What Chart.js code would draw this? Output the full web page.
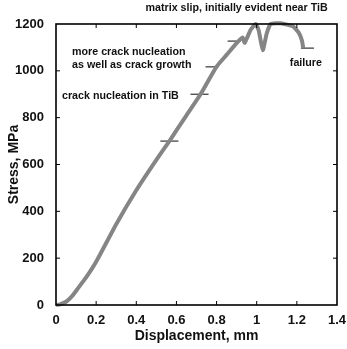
<!DOCTYPE html>
<html lang="en">
<head>
    <meta charset="UTF-8">
    <title>Stress vs displacement</title>
    <script src="https://cdn.jsdelivr.net/npm/chart.js"></script>
    <style>
        html, body { margin: 0; padding: 0; background: #fff; }
        .wrap { width: 347px; height: 349px; }
    </style>
</head>
<body>
    <div class="wrap"><canvas id="stressChart" width="347" height="349"></canvas></div>

    <script>
        // load curve (displacement in mm, stress in MPa)
        const displacement = [0, 0.02, 0.05, 0.08, 0.11, 0.15, 0.20, 0.30, 0.40, 0.50, 0.565, 0.65, 0.72, 0.80,
                              0.85, 0.90, 0.93, 0.94, 0.97, 0.995, 1.01, 1.03, 1.05, 1.07, 1.12, 1.18,
                              1.21, 1.225, 1.232];
        const stress = [0, 3, 14, 38, 72, 118, 185, 345, 490, 620, 700, 810, 900, 1018,
                        1068, 1118, 1142, 1120, 1175, 1200, 1172, 1088, 1160, 1200, 1203, 1190,
                        1162, 1130, 1097];

        // short horizontal marks for the damage stages
        const markStress = [700, 900, 1017, 1127, 1097];
        const markFrom = [0.52, 0.67, 0.745, 0.855, 1.22];
        const markTo = [0.61, 0.76, 0.81, 0.92, 1.285];

        // stage labels: text, x, y (data units), alignment
        const noteText = ['matrix slip, initially evident near TiB', 'more crack nucleation',
                          'as well as crack growth', 'crack nucleation in TiB', 'failure'];
        const noteX = [0.9, 0.08, 0.08, 0.03, 1.245];
        const noteY = [1270, 1082, 1026, 892, 1034];
        const noteAlign = ['center', 'left', 'left', 'left', 'center'];

        const xTicks = [0, 0.2, 0.4, 0.6, 0.8, 1.0, 1.2, 1.4];
        const yTicks = [0, 200, 400, 600, 800, 1000, 1200];

        const ink = '#111';
        const font = 'Liberation Sans, Arial, sans-serif';

        const datasets = [{
            data: displacement.map((d, i) => ({ x: d, y: stress[i] })),
            borderColor: '#858585',
            borderWidth: 4,
            pointRadius: 0,
            tension: 0.15,
            clip: false
        }];
        markStress.forEach((s, i) => {
            datasets.push({
                data: [{ x: markFrom[i], y: s }, { x: markTo[i], y: s }],
                borderColor: '#333',
                borderWidth: 1.2,
                pointRadius: 0
            });
        });

        // frame box, inward ticks and stage labels
        const framePlugin = {
            id: 'frame',
            afterDraw(chart) {
                const { ctx, chartArea: a, scales } = chart;
                ctx.save();
                ctx.strokeStyle = '#000';
                ctx.lineWidth = 1.6;
                ctx.strokeRect(a.left, a.top, a.right - a.left, a.bottom - a.top);
                ctx.lineWidth = 1;
                const t = 4;
                ctx.beginPath();
                xTicks.slice(1, -1).forEach(v => {
                    const px = scales.x.getPixelForValue(v);
                    ctx.moveTo(px, a.bottom); ctx.lineTo(px, a.bottom - t);
                    ctx.moveTo(px, a.top); ctx.lineTo(px, a.top + t);
                });
                yTicks.slice(1, -1).forEach(v => {
                    const py = scales.y.getPixelForValue(v);
                    ctx.moveTo(a.left, py); ctx.lineTo(a.left + t, py);
                    ctx.moveTo(a.right, py); ctx.lineTo(a.right - t, py);
                });
                ctx.stroke();

                ctx.fillStyle = ink;
                ctx.font = 'bold 10.7px ' + font;
                ctx.textBaseline = 'middle';
                noteText.forEach((txt, i) => {
                    ctx.textAlign = noteAlign[i];
                    ctx.fillText(txt, scales.x.getPixelForValue(noteX[i]), scales.y.getPixelForValue(noteY[i]));
                });
                ctx.restore();
            }
        };

        new Chart(document.getElementById('stressChart'), {
            type: 'line',
            data: { datasets },
            options: {
                responsive: false,
                animation: false,
                layout: { padding: { top: 24, right: 10, left: 0, bottom: 0 } },
                plugins: { legend: { display: false }, tooltip: { enabled: false } },
                scales: {
                    x: {
                        type: 'linear',
                        min: 0,
                        max: 1.4,
                        afterFit: s => { s.height = 44; },
                        afterBuildTicks: s => { s.ticks = xTicks.map(v => ({ value: v })); },
                        grid: { display: false },
                        border: { display: false },
                        ticks: {
                            color: ink,
                            padding: 0,
                            font: { family: font, size: 13, weight: 'bold' },
                            callback: v => String(Number(v.toFixed(2)))
                        },
                        title: {
                            display: true,
                            text: 'Displacement, mm',
                            color: ink,
                            padding: { top: 0, bottom: 4 },
                            font: { family: font, size: 14, weight: 'bold' }
                        }
                    },
                    y: {
                        min: 0,
                        max: 1200,
                        afterFit: s => { s.width = 56; },
                        afterBuildTicks: s => { s.ticks = yTicks.map(v => ({ value: v })); },
                        grid: { display: false },
                        border: { display: false },
                        ticks: {
                            color: ink,
                            padding: 4,
                            font: { family: font, size: 13, weight: 'bold' },
                            callback: v => String(v)
                        },
                        title: {
                            display: true,
                            text: 'Stress, MPa',
                            color: ink,
                            padding: { top: 6, bottom: 0 },
                            font: { family: font, size: 14, weight: 'bold' }
                        }
                    }
                }
            },
            plugins: [framePlugin]
        });
    </script>
</body>
</html>
